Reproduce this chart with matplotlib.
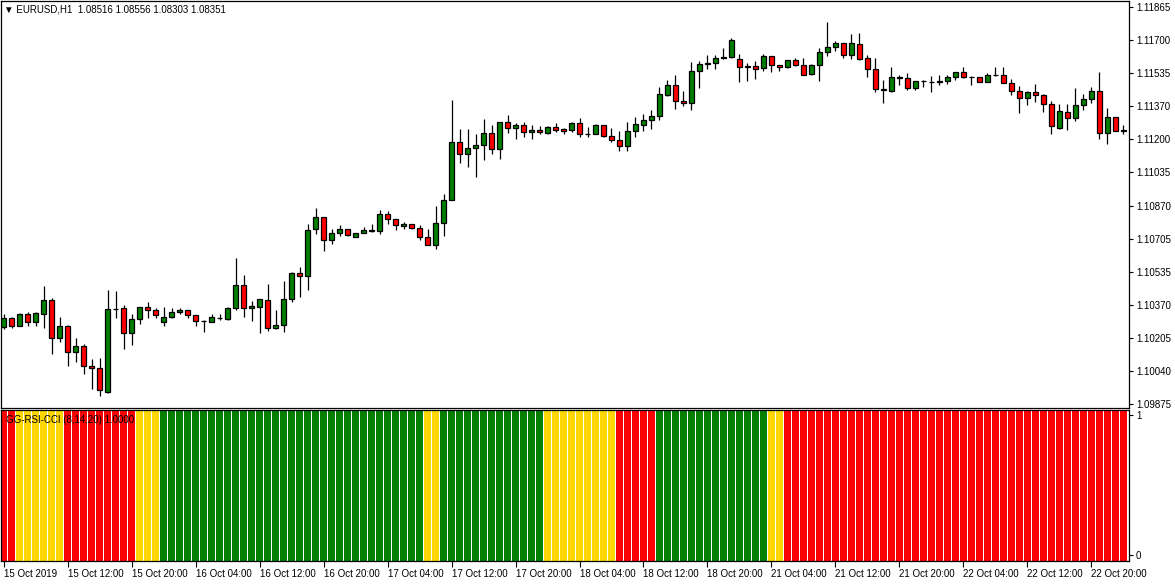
import matplotlib
matplotlib.use("Agg")
import matplotlib.pyplot as plt
import numpy as np

plt.rcParams['font.family'] = ['Liberation Sans', 'DejaVu Sans']

# ---------------- data ----------------
symbol_title = "\u25BC EURUSD,H1  1.08516 1.08556 1.08303 1.08351"
indicator_title = "GG-RSI-CCI (8,14,20) 1.0000"

opens = [1.10262, 1.10307, 1.10267, 1.10327, 1.10287, 1.10327, 1.10397, 1.10207, 1.10267, 1.10136,
         1.10167, 1.10066, 1.10056, 1.09936, 1.10352, 1.10357, 1.10232, 1.10302, 1.10362, 1.10347,
         1.10287, 1.10312, 1.10337, 1.10347, 1.10322, 1.10292, 1.10287, 1.10305, 1.10302, 1.10357,
         1.10472, 1.10357, 1.10362, 1.10397, 1.10257, 1.10272, 1.10402, 1.10532, 1.10517, 1.10753,
         1.10813, 1.10698, 1.10733, 1.10753, 1.10713, 1.10733, 1.10743, 1.10743, 1.10828, 1.10803,
         1.10768, 1.10778, 1.10758, 1.10713, 1.10673, 1.10783, 1.10898, 1.11189, 1.11128, 1.11159,
         1.11174, 1.11234, 1.11154, 1.11289, 1.11259, 1.11274, 1.11239, 1.11249, 1.11234, 1.11264,
         1.11254, 1.11249, 1.11284, 1.11229, 1.11229, 1.11274, 1.11219, 1.11199, 1.11169, 1.11244,
         1.11274, 1.11299, 1.11319, 1.11424, 1.11474, 1.11394, 1.11384, 1.11544, 1.11579, 1.11584,
         1.11609, 1.11614, 1.11604, 1.11569, 1.11569, 1.11559, 1.11619, 1.11574, 1.11564, 1.11599,
         1.11574, 1.11529, 1.11574, 1.11639, 1.11665, 1.11685, 1.11624, 1.11680, 1.11609, 1.11554,
         1.11454, 1.11444, 1.11509, 1.11509, 1.11459, 1.11494, 1.11489, 1.11489, 1.11494, 1.11514,
         1.11539, 1.11514, 1.11514, 1.11489, 1.11524, 1.11524, 1.11484, 1.11444, 1.11409, 1.11439,
         1.11424, 1.11379, 1.11259, 1.11339, 1.11309, 1.11374, 1.11404, 1.11444, 1.11234, 1.11314,
         1.11244]
highs = [1.10327, 1.10312, 1.10332, 1.10337, 1.10337, 1.10467, 1.10407, 1.10312, 1.10272, 1.10207,
         1.10177, 1.10101, 1.10106, 1.10447, 1.10442, 1.10372, 1.10327, 1.10362, 1.10387, 1.10357,
         1.10362, 1.10357, 1.10357, 1.10347, 1.10322, 1.10297, 1.10327, 1.10327, 1.10362, 1.10607,
         1.10522, 1.10392, 1.10402, 1.10477, 1.10347, 1.10492, 1.10537, 1.10562, 1.10778, 1.10858,
         1.10813, 1.10753, 1.10773, 1.10753, 1.10733, 1.10763, 1.10778, 1.10848, 1.10843, 1.10803,
         1.10788, 1.10778, 1.10773, 1.10753, 1.10868, 1.10928, 1.11399, 1.11254, 1.11254, 1.11229,
         1.11304, 1.11274, 1.11289, 1.11324, 1.11284, 1.11289, 1.11274, 1.11269, 1.11269, 1.11284,
         1.11259, 1.11289, 1.11309, 1.11264, 1.11279, 1.11274, 1.11259, 1.11244, 1.11289, 1.11314,
         1.11329, 1.11349, 1.11464, 1.11499, 1.11524, 1.11444, 1.11589, 1.11594, 1.11624, 1.11624,
         1.11660, 1.11710, 1.11629, 1.11584, 1.11594, 1.11629, 1.11619, 1.11574, 1.11599, 1.11609,
         1.11609, 1.11579, 1.11660, 1.11790, 1.11695, 1.11685, 1.11730, 1.11735, 1.11624, 1.11609,
         1.11499, 1.11564, 1.11524, 1.11534, 1.11494, 1.11499, 1.11519, 1.11524, 1.11524, 1.11539,
         1.11564, 1.11519, 1.11514, 1.11534, 1.11564, 1.11564, 1.11504, 1.11469, 1.11444, 1.11479,
         1.11429, 1.11394, 1.11379, 1.11379, 1.11459, 1.11429, 1.11464, 1.11539, 1.11359, 1.11314,
         1.11274]
lows = [1.10252, 1.10257, 1.10267, 1.10267, 1.10267, 1.10257, 1.10126, 1.10187, 1.10066, 1.10086,
        1.10026, 1.09951, 1.09916, 1.09931, 1.10307, 1.10152, 1.10172, 1.10277, 1.10307, 1.10307,
        1.10267, 1.10307, 1.10327, 1.10307, 1.10267, 1.10237, 1.10287, 1.10297, 1.10297, 1.10347,
        1.10312, 1.10292, 1.10232, 1.10242, 1.10252, 1.10237, 1.10387, 1.10412, 1.10447, 1.10728,
        1.10643, 1.10678, 1.10718, 1.10718, 1.10713, 1.10733, 1.10738, 1.10728, 1.10778, 1.10748,
        1.10753, 1.10753, 1.10698, 1.10673, 1.10653, 1.10718, 1.10898, 1.11083, 1.11063, 1.11013,
        1.11098, 1.11128, 1.11103, 1.11234, 1.11204, 1.11214, 1.11204, 1.11229, 1.11229, 1.11239,
        1.11229, 1.11239, 1.11214, 1.11214, 1.11229, 1.11214, 1.11189, 1.11144, 1.11144, 1.11214,
        1.11244, 1.11254, 1.11299, 1.11419, 1.11354, 1.11369, 1.11349, 1.11459, 1.11554, 1.11554,
        1.11604, 1.11609, 1.11489, 1.11494, 1.11504, 1.11544, 1.11539, 1.11544, 1.11559, 1.11569,
        1.11524, 1.11524, 1.11494, 1.11619, 1.11644, 1.11609, 1.11604, 1.11599, 1.11514, 1.11439,
        1.11384, 1.11439, 1.11474, 1.11449, 1.11449, 1.11464, 1.11439, 1.11474, 1.11479, 1.11499,
        1.11509, 1.11474, 1.11489, 1.11489, 1.11519, 1.11484, 1.11424, 1.11334, 1.11374, 1.11389,
        1.11339, 1.11229, 1.11254, 1.11249, 1.11294, 1.11349, 1.11384, 1.11204, 1.11179, 1.11244,
        1.11229]
closes = [1.10307, 1.10267, 1.10327, 1.10287, 1.10332, 1.10397, 1.10207, 1.10267, 1.10136, 1.10167,
          1.10066, 1.10056, 1.09946, 1.10352, 1.10352, 1.10232, 1.10302, 1.10362, 1.10347, 1.10322,
          1.10312, 1.10337, 1.10347, 1.10322, 1.10292, 1.10292, 1.10312, 1.10307, 1.10357, 1.10472,
          1.10357, 1.10367, 1.10402, 1.10257, 1.10272, 1.10402, 1.10532, 1.10517, 1.10748, 1.10813,
          1.10698, 1.10733, 1.10753, 1.10723, 1.10733, 1.10748, 1.10748, 1.10828, 1.10803, 1.10773,
          1.10778, 1.10758, 1.10713, 1.10673, 1.10783, 1.10898, 1.11189, 1.11128, 1.11159, 1.11174,
          1.11234, 1.11154, 1.11289, 1.11259, 1.11274, 1.11239, 1.11249, 1.11239, 1.11264, 1.11249,
          1.11244, 1.11284, 1.11229, 1.11229, 1.11274, 1.11219, 1.11199, 1.11169, 1.11244, 1.11279,
          1.11299, 1.11319, 1.11429, 1.11474, 1.11394, 1.11384, 1.11544, 1.11579, 1.11584, 1.11609,
          1.11614, 1.11700, 1.11564, 1.11564, 1.11554, 1.11619, 1.11574, 1.11564, 1.11599, 1.11574,
          1.11524, 1.11574, 1.11639, 1.11665, 1.11685, 1.11624, 1.11685, 1.11604, 1.11554, 1.11454,
          1.11449, 1.11514, 1.11514, 1.11459, 1.11494, 1.11494, 1.11489, 1.11494, 1.11514, 1.11539,
          1.11514, 1.11514, 1.11489, 1.11524, 1.11524, 1.11484, 1.11444, 1.11409, 1.11439, 1.11424,
          1.11379, 1.11269, 1.11344, 1.11309, 1.11374, 1.11404, 1.11444, 1.11234, 1.11314, 1.11244,
          1.11249]

# indicator state per bar: R = red, Y = yellow, G = green
indicator_states = ("RRYYYYYYRRRRRRRRRYYY"
                    "GGGGGGGGGGGGGGGGGGGGGGGGGGGGGGGGG"
                    "YYGGGGGGGGGGGGGYYYYYYYYYRRRRR"
                    "GGGGGGGGGGGGGGYY"
                    "RRRRRRRRRRRRRRRRRRRRRRRRRRRRRRRRRRRRRRRRRRR")

price_tick_labels = ["1.09875", "1.10040", "1.10205", "1.10370", "1.10535", "1.10705", "1.10870",
                     "1.11035", "1.11200", "1.11370", "1.11535", "1.11700", "1.11865"]
price_tick_low, price_tick_high = 1.09875, 1.11865

time_labels = ["15 Oct 2019", "15 Oct 12:00", "15 Oct 20:00", "16 Oct 04:00", "16 Oct 12:00",
               "16 Oct 20:00", "17 Oct 04:00", "17 Oct 12:00", "17 Oct 20:00", "18 Oct 04:00",
               "18 Oct 12:00", "18 Oct 20:00", "21 Oct 04:00", "21 Oct 12:00", "21 Oct 20:00",
               "22 Oct 04:00", "22 Oct 12:00", "22 Oct 20:00"]
time_label_bars = [0, 8, 16, 24, 32, 40, 48, 56, 64, 72, 80, 88, 96, 104, 112, 120, 128, 136]

# ---------------- styling ----------------
GREEN = "#008000"
RED = "#FF0000"
YELLOW = "#FFD700"
state_colors = {"R": RED, "Y": YELLOW, "G": GREEN}
FS = 7

W, H = 1175, 584
fig = plt.figure(figsize=(W / 100, H / 100), dpi=100)
fig.patch.set_facecolor("white")

def fx(px):
    return px / W

def fy(py):
    return 1 - py / H

ax = fig.add_axes([fx(1), fy(407.5), fx(1128), fy(0.5) - fy(407.5)])
axi = fig.add_axes([fx(1), fy(560.5), fx(1128), fy(409.5) - fy(560.5)])

n = len(opens)
x = np.arange(n)
o = np.array(opens); h = np.array(highs); l = np.array(lows); c = np.array(closes)

# wicks
ax.vlines(x, l, h, color="black", linewidth=0.9, zorder=1)
# bodies
up = c >= o
body_colors = [GREEN if u else RED for u in up]
bottoms = np.minimum(o, c)
heights = np.abs(c - o)
ax.bar(x, heights, bottom=bottoms, width=0.66, color=body_colors,
       edgecolor="black", linewidth=0.9, zorder=2)

ax.set_xlim(-0.35, n - 1 + 0.72)
ymin = price_tick_low - (407.5 - 404) * (price_tick_high - price_tick_low) / 397
ymax = price_tick_high + (7 - 0.5) * (price_tick_high - price_tick_low) / 397
ax.set_ylim(ymin, ymax)

ticks = np.linspace(price_tick_low, price_tick_high, len(price_tick_labels))
ax.yaxis.tick_right()
ax.set_yticks(ticks)
ax.set_yticklabels(price_tick_labels, fontsize=FS)
ax.tick_params(axis="y", direction="out", length=3, width=0.8, pad=2, colors="black")
ax.set_xticks([])
for s in ax.spines.values():
    s.set_linewidth(0.9)
    s.set_color("black")

ax.text(0.003, 1 - 9 / 407, symbol_title, transform=ax.transAxes,
        fontsize=FS, va="center", ha="left", color="black")

# indicator
ind_colors = [state_colors[s] for s in indicator_states]
axi.bar(x, np.ones(n), bottom=0, width=0.86, color=ind_colors, linewidth=0)
axi.set_xlim(ax.get_xlim())
axi.set_ylim(0, 1)
axi.yaxis.tick_right()
axi.set_yticks([0.965, 0.035])
axi.set_yticklabels(["1", "0"], fontsize=FS)
axi.tick_params(axis="y", direction="out", length=3, width=0.8, pad=2)
axi.set_xticks(time_label_bars)
axi.set_xticklabels(time_labels, fontsize=FS, ha="left")
axi.tick_params(axis="x", direction="out", length=4, width=0.8, pad=2)
for s in axi.spines.values():
    s.set_linewidth(0.9)
    s.set_color("black")
axi.text(0.004, 0.93, indicator_title, transform=axi.transAxes, fontsize=FS,
         va="center", ha="left", color="black")

fig.savefig("out.png", dpi=100, facecolor="white")
